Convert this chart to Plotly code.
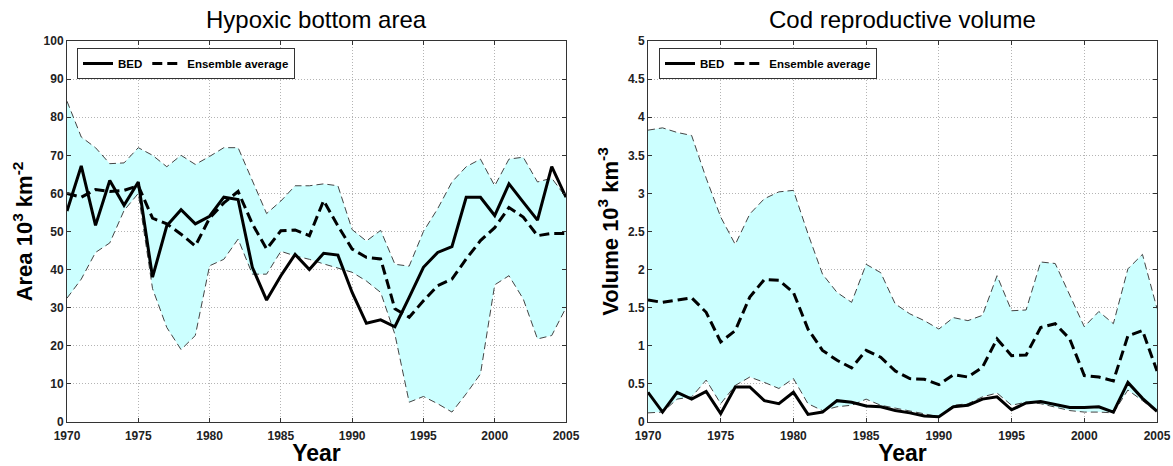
import plotly.graph_objects as go

years = list(range(1970, 2006))

# Hypoxic bottom area (10^3 km^2)
hyp_bed = [55.4, 67.2, 51.6, 63.4, 56.9, 63.0, 38.0, 51.5, 55.7, 52.0, 54.0, 59.0, 58.4, 40.6, 32.0, 38.4,
           44.0, 40.0, 44.3, 43.8, 34.0, 25.9, 26.8, 25.0, 32.7, 40.6, 44.5, 46.0, 59.0, 59.0, 54.2, 62.5,
           57.7, 53.0, 67.0, 59.0]
hyp_ens = [60.0, 59.0, 61.0, 60.5, 60.8, 62.0, 53.5, 52.0, 49.3, 46.2, 53.5, 57.5, 60.5, 52.0, 45.4, 50.2,
           50.4, 48.9, 58.1, 51.5, 45.4, 43.2, 42.8, 29.7, 27.5, 31.8, 35.8, 37.5, 42.8, 47.6, 51.0, 56.3,
           53.8, 48.9, 49.5, 49.5]
hyp_up = [84.2, 74.8, 72.0, 67.8, 68.0, 72.0, 70.0, 67.0, 70.0, 67.6, 69.7, 72.0, 72.0, 63.4, 54.7, 58.0,
          62.0, 62.0, 62.5, 62.0, 50.5, 47.5, 50.3, 41.4, 40.9, 50.0, 56.0, 63.0, 67.0, 69.0, 62.0, 69.0,
          69.5, 63.0, 64.0, 59.0]
hyp_lo = [32.5, 37.5, 44.5, 47.0, 55.5, 60.0, 35.0, 24.8, 19.0, 22.7, 41.0, 42.7, 48.0, 38.8, 38.8, 44.8,
          43.6, 42.7, 41.5, 40.5, 39.3, 37.0, 34.0, 23.0, 5.2, 6.7, 4.8, 2.6, 7.4, 12.6, 36.0, 38.4,
          32.3, 21.8, 22.7, 30.0]

# Cod reproductive volume (10^3 km^3)
cod_bed = [0.39, 0.13, 0.39, 0.30, 0.40, 0.11, 0.46, 0.46, 0.28, 0.24, 0.39, 0.10, 0.13, 0.28, 0.26, 0.21,
           0.20, 0.15, 0.12, 0.08, 0.07, 0.20, 0.22, 0.30, 0.33, 0.16, 0.25, 0.27, 0.23, 0.19, 0.19, 0.20,
           0.13, 0.52, 0.31, 0.14]
cod_ens = [1.60, 1.57, 1.60, 1.63, 1.44, 1.05, 1.20, 1.64, 1.87, 1.86, 1.70, 1.22, 0.94, 0.81, 0.71, 0.94,
           0.85, 0.67, 0.57, 0.56, 0.49, 0.62, 0.59, 0.72, 1.09, 0.87, 0.88, 1.24, 1.29, 1.09, 0.61, 0.59,
           0.54, 1.13, 1.20, 0.67]
cod_up = [3.83, 3.86, 3.80, 3.76, 3.20, 2.69, 2.33, 2.73, 2.93, 3.02, 3.04, 2.47, 1.94, 1.70, 1.57, 2.07,
          1.96, 1.55, 1.42, 1.33, 1.22, 1.37, 1.33, 1.40, 1.92, 1.46, 1.47, 2.10, 2.08, 1.66, 1.25, 1.45,
          1.29, 2.01, 2.20, 1.49]
cod_lo = [0.12, 0.13, 0.30, 0.33, 0.55, 0.24, 0.48, 0.59, 0.52, 0.44, 0.57, 0.24, 0.15, 0.20, 0.22, 0.30,
          0.22, 0.18, 0.14, 0.10, 0.07, 0.22, 0.24, 0.33, 0.38, 0.22, 0.26, 0.24, 0.20, 0.15, 0.13, 0.13,
          0.12, 0.42, 0.28, 0.13]

x_ticks = [1970, 1975, 1980, 1985, 1990, 1995, 2000, 2005]
hyp_yticks = list(range(0, 101, 10))
cod_yticks = [0, 0.5, 1, 1.5, 2, 2.5, 3, 3.5, 4, 4.5, 5]
cod_yticklabels = ["0", "0.5", "1", "1.5", "2", "2.5", "3", "3.5", "4", "4.5", "5"]

FONT = "Liberation Sans, Arial, sans-serif"
FILL = "#ccffff"
EDGE = "#444444"

fig = go.Figure()


def add_panel(xa, ya, lo, up, bed, ens, legend):
    fig.add_trace(go.Scatter(x=years, y=lo, xaxis=xa, yaxis=ya, mode="lines",
                             line=dict(color=EDGE, width=1, dash="7px,4px"),
                             showlegend=False, hoverinfo="skip"))
    fig.add_trace(go.Scatter(x=years, y=up, xaxis=xa, yaxis=ya, mode="lines",
                             line=dict(color=EDGE, width=1, dash="7px,4px"),
                             fill="tonexty", fillcolor=FILL,
                             showlegend=False, hoverinfo="skip"))
    fig.add_trace(go.Scatter(x=years, y=bed, xaxis=xa, yaxis=ya, mode="lines", name="BED",
                             line=dict(color="black", width=3), legend=legend))
    fig.add_trace(go.Scatter(x=years, y=ens, xaxis=xa, yaxis=ya, mode="lines", name="Ensemble average",
                             line=dict(color="black", width=3, dash="10px,5px"), legend=legend))


add_panel("x", "y", hyp_lo, hyp_up, hyp_bed, hyp_ens, "legend")
add_panel("x2", "y2", cod_lo, cod_up, cod_bed, cod_ens, "legend2")

W, H = 1173, 466
axis_common = dict(
    showline=True, mirror="ticks", linecolor="#333333", linewidth=1,
    ticks="inside", ticklen=4, tickcolor="#333333",
    showgrid=True, gridcolor="#b4b4b4", griddash="1px,2px", gridwidth=1,
    zeroline=False, automargin=False,
    tickfont=dict(family=FONT, size=12, color="#222222", weight="bold"),
)
xtitle = dict(text="Year", font=dict(family=FONT, size=23, weight="bold"), standoff=2)

legend_common = dict(
    y=1 - 48 / H, xanchor="left", yanchor="top", orientation="h", traceorder="normal",
    bgcolor="white", bordercolor="#333333", borderwidth=1,
    font=dict(family=FONT, size=11.5, weight="bold"), itemwidth=30, tracegroupgap=0,
)

fig.update_layout(
    width=W, height=H,
    margin=dict(l=0, r=0, t=0, b=0, autoexpand=False),
    paper_bgcolor="white", plot_bgcolor="white",
    font=dict(family=FONT, color="black"),
    xaxis=dict(domain=[67 / W, 566 / W], range=[1970, 2005], tickvals=x_ticks, anchor="y",
               title=xtitle, ticklabelstandoff=3, **axis_common),
    yaxis=dict(domain=[1 - 422 / H, 1 - 41 / H], range=[0, 100], tickvals=hyp_yticks, anchor="x",
               title=dict(text="Area 10<sup>3</sup> km<sup>-2</sup>",
                          font=dict(family=FONT, size=22, weight="bold"), standoff=4),
               **axis_common),
    xaxis2=dict(domain=[648 / W, 1157 / W], range=[1970, 2005], tickvals=x_ticks, anchor="y2",
                title=xtitle, ticklabelstandoff=3, **axis_common),
    yaxis2=dict(domain=[1 - 422 / H, 1 - 41 / H], range=[0, 5], tickvals=cod_yticks,
                ticktext=cod_yticklabels, anchor="x2",
                title=dict(text="Volume 10<sup>3</sup> km<sup>-3</sup>",
                           font=dict(family=FONT, size=22, weight="bold"), standoff=3),
                **axis_common),
    legend=dict(x=77 / W, **legend_common),
    legend2=dict(x=659 / W, **legend_common),
    annotations=[
        dict(text="Hypoxic bottom area", x=(67 + 566) / 2 / W, y=1 - 19 / H, xref="paper", yref="paper",
             xanchor="center", yanchor="middle", showarrow=False,
             font=dict(family=FONT, size=24, color="black")),
        dict(text="Cod reproductive volume", x=(648 + 1157) / 2 / W, y=1 - 19 / H, xref="paper",
             yref="paper", xanchor="center", yanchor="middle", showarrow=False,
             font=dict(family=FONT, size=24, color="black")),
    ],
)

fig.write_html(
    "out.html",
    config={"displayModeBar": False},
    post_script="document.body.style.margin='0px';document.body.style.overflow='hidden';",
)
